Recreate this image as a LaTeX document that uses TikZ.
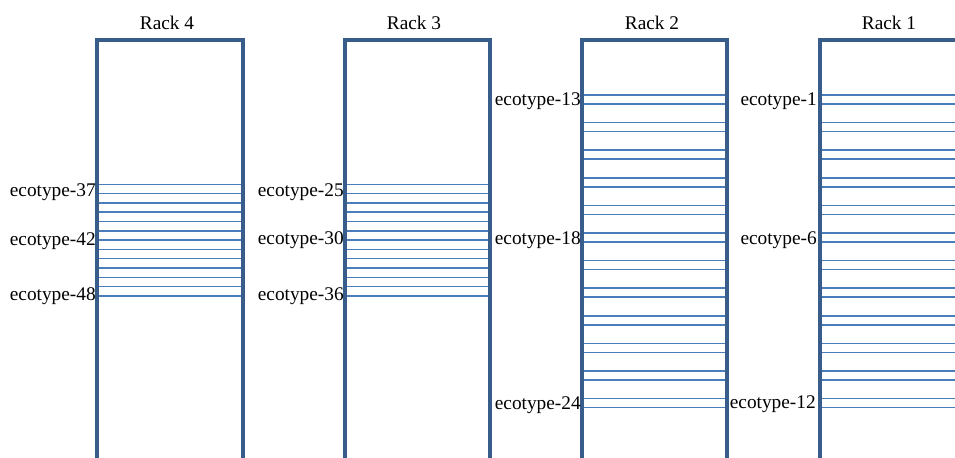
\documentclass[tikz,border=0pt]{standalone}
\usepackage{fontspec}
\setmainfont{Liberation Serif}
\definecolor{rackedge}{HTML}{385D8A}
\definecolor{slotline}{HTML}{4A7EBB}
\begin{document}
\begin{tikzpicture}[x=0.75pt,y=-0.75pt,
  rackbox/.style={draw=rackedge,line width=2.3pt},
  slot/.style={draw=slotline,line width=1.1pt},
  racktitle/.style={font=\fontsize{14.5}{17}\selectfont,inner sep=0pt},
  ecolabel/.style={font=\fontsize{14.5}{17}\selectfont,inner sep=0pt,anchor=east}]
\useasboundingbox (0,0) rectangle (955,457);
\clip (0,0) rectangle (955,457);
% racks 4 and 3: 13 contiguous lines
\foreach \L/\R in {97/243,345/490}{
  \foreach \k in {0,...,12}{
    \draw[slot] (\L,{184.3+9.3*\k}) -- (\R,{184.3+9.3*\k});
  }
}
% racks 2 and 1: 12 slot pairs
\foreach \L/\R in {582/727,820/966}{
  \foreach \k in {0,...,11}{
    \draw[slot] (\L,{95+27.6*\k}) -- (\R,{95+27.6*\k});
    \draw[slot] (\L,{104+27.6*\k}) -- (\R,{104+27.6*\k});
  }
}
% rack outlines
\draw[rackbox] (97,470) -- (97,40) -- (243,40) -- (243,470);
\draw[rackbox] (345,470) -- (345,40) -- (490,40) -- (490,470);
\draw[rackbox] (582,470) -- (582,40) -- (727,40) -- (727,470);
\draw[rackbox] (820,470) -- (820,40) -- (966,40) -- (966,470);
% titles
\node[racktitle] (t4) at (167,23) {Rack 4};
\node[racktitle] (t3) at (414,23) {Rack 3};
\node[racktitle] (t2) at (652,23) {Rack 2};
\node[racktitle] (t1) at (889,23) {Rack 1};
% labels rack 4
\node[ecolabel] (e37) at (96,192.5) {ecotype-37};
\node[ecolabel] (e42) at (96,241.5) {ecotype-42};
\node[ecolabel] (e48) at (96,296.5) {ecotype-48};
% labels rack 3
\node[ecolabel] (e25) at (344,192.5) {ecotype-25};
\node[ecolabel] (e30) at (344,240.5) {ecotype-30};
\node[ecolabel] (e36) at (344,296.5) {ecotype-36};
% labels rack 2
\node[ecolabel] (e13) at (581,101.5) {ecotype-13};
\node[ecolabel] (e18) at (581,239.8) {ecotype-18};
\node[ecolabel] (e24) at (581,405.5) {ecotype-24};
% labels rack 1
\node[ecolabel] (e1) at (817,101.5) {ecotype-1};
\node[ecolabel] (e6) at (817,239.8) {ecotype-6};
\node[ecolabel] (e12) at (816,404.2) {ecotype-12};
\end{tikzpicture}
\end{document}
